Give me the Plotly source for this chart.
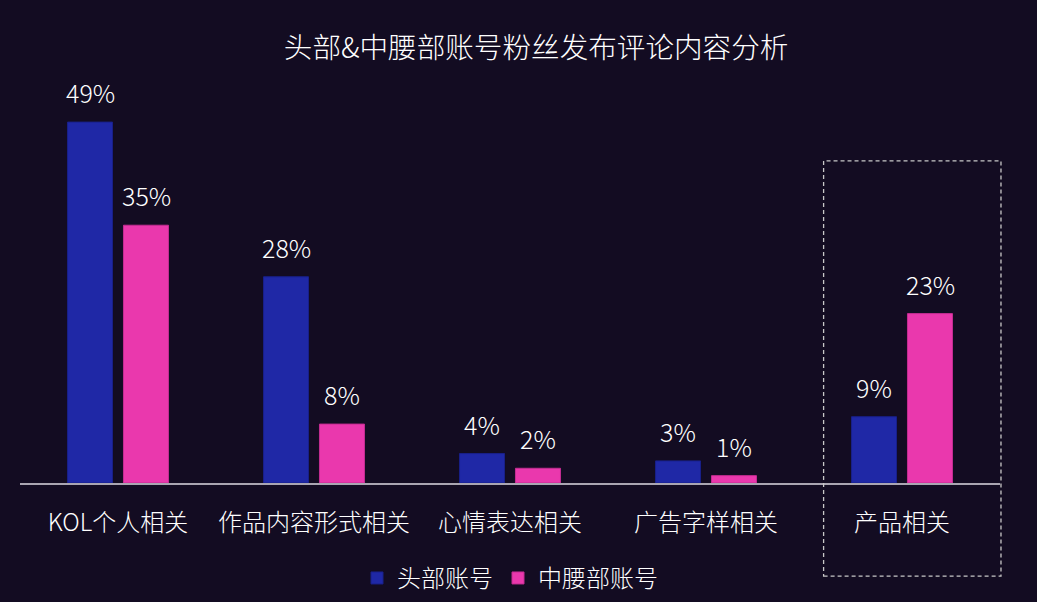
import plotly.graph_objects as go

categories = ["KOL个人相关", "作品内容形式相关", "心情表达相关", "广告字样相关", "产品相关"]
head_values = [49, 28, 4, 3, 9]
mid_values = [35, 8, 2, 1, 23]
series_names = ["头部账号", "中腰部账号"]
title_text = "头部&中腰部账号粉丝发布评论内容分析"

BG = "#130c22"
BLUE = "#1f28a6"
PINK = "#ea38ad"
FONT = "Noto Sans CJK SC"

fig = go.Figure()
fig.add_trace(go.Bar(x=categories, y=head_values, name=series_names[0],
                     marker=dict(color=BLUE, line=dict(color="#19208a", width=1))))
fig.add_trace(go.Bar(x=categories, y=mid_values, name=series_names[1],
                     marker=dict(color=PINK, line=dict(color="#c42d92", width=1))))

for vals, shift in ((head_values, -28), (mid_values, 28)):
    for c, v in zip(categories, vals):
        fig.add_annotation(x=c, y=v, text=f"{v}%", showarrow=False, xshift=shift,
                           yanchor="bottom", yshift=10,
                           font=dict(family=FONT, size=25, color="#ffffff", weight=300))

fig.add_shape(type="rect", xref="paper", yref="paper",
              x0=0.820, x1=1.001, y0=-0.243, y1=0.841,
              line=dict(color="#c8c8c8", width=1.3, dash="4px,3px"))

fig.update_layout(
    width=1037, height=602,
    paper_bgcolor=BG, plot_bgcolor=BG,
    margin=dict(l=20, r=37, t=100, b=119, autoexpand=False),
    barmode="group", bargap=0.429, bargroupgap=0.196,
    title=dict(text=title_text, x=0.517, xanchor="center", y=0.92, yanchor="middle",
               font=dict(family=FONT, size=28.6, color="#ffffff", weight=300)),
    font=dict(family=FONT, color="#ffffff"),
    legend=dict(orientation="h", x=0.5, xanchor="center", y=-0.249, yanchor="middle",
                font=dict(family=FONT, size=24, color="#ffffff", weight=300),
                bgcolor="rgba(0,0,0,0)", itemwidth=30, traceorder="normal"),
    xaxis=dict(showline=True, linecolor="#aaa6b2", linewidth=2, showgrid=False,
               ticks="", ticklabelstandoff=17,
               tickfont=dict(family=FONT, size=24, color="#ffffff", weight=300)),
    yaxis=dict(range=[0, 52], visible=False, showgrid=False, zeroline=False),
)

fig.write_html("out.html", config={"displayModeBar": False},
               post_script="document.body.style.margin='0';document.body.style.background='%s';" % BG)
